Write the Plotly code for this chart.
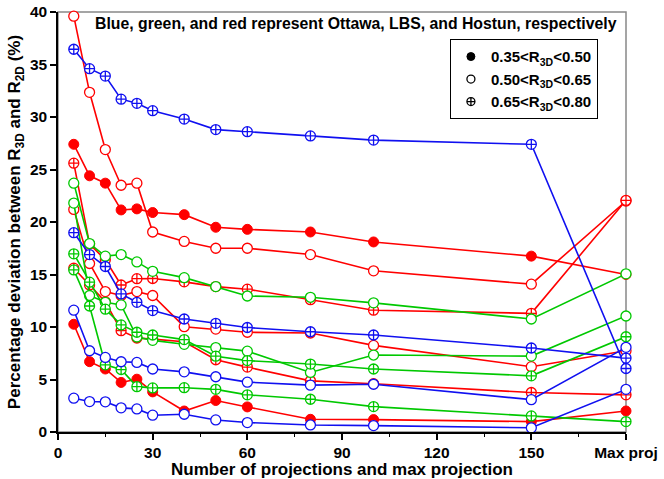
import plotly.graph_objects as go

# x positions: numbers of projections, last one = "Max proj"
x_vals = [5, 10, 15, 20, 25, 30, 40, 50, 60, 80, 100, 150, 180]
x_tick_vals = [0, 30, 60, 90, 120, 150, 180]
x_tick_text = ["0", "30", "60", "90", "120", "150", "Max proj"]
y_tick_vals = [0, 5, 10, 15, 20, 25, 30, 35, 40]

# Hostun (red)
red_fill_1 = [27.4, 24.4, 23.7, 21.15, 21.25, 20.9, 20.7, 19.5, 19.3, 19.05, 18.1, 16.75, 15.0]
red_fill_2 = [10.26, 6.7, 6.0, 4.72, 5.03, 3.82, 2.0, 3.0, 2.39, 1.21, 1.18, 0.99, 2.0]
red_open_1 = [39.6, 32.35, 26.9, 23.5, 23.7, 19.05, 18.15, 17.5, 17.5, 16.9, 15.35, 14.08, 22.0]
red_open_2 = [21.2, 16.05, 13.37, 13.0, 13.37, 13.0, 10.03, 9.8, 9.5, 9.43, 8.25, 6.22, 7.74]
red_cross_1 = [25.6, 17.9, 16.4, 14.0, 14.6, 14.62, 14.3, 13.85, 13.6, 12.6, 11.6, 11.3, 22.06]
red_cross_2 = [15.6, 14.0, 12.4, 9.65, 8.95, 8.85, 8.6, 6.88, 6.18, 4.87, 4.6, 3.76, 3.54]

# LBS (green)
green_open_1 = [23.7, 17.95, 16.75, 16.9, 16.2, 15.3, 14.7, 13.85, 12.95, 12.83, 12.3, 10.76, 15.06]
green_open_2 = [21.8, 13.0, 12.35, 12.1, 9.05, 8.73, 8.35, 8.04, 7.7, 5.67, 7.33, 7.23, 11.05]
green_cross_1 = [16.97, 14.27, 11.7, 10.2, 9.5, 9.24, 8.8, 7.22, 6.8, 6.47, 6.0, 5.35, 9.07]
green_cross_2 = [15.44, 12.0, 6.4, 5.95, 4.32, 4.2, 4.22, 4.06, 3.54, 3.12, 2.42, 1.53, 0.99]

# Ottawa (blue)
blue_open_1 = [11.6, 7.74, 7.1, 6.69, 6.63, 6.0, 5.73, 5.26, 4.75, 4.46, 4.55, 3.08, 8.06]
blue_open_2 = [3.22, 2.9, 2.87, 2.3, 2.2, 1.6, 1.69, 1.15, 0.9, 0.67, 0.61, 0.4, 4.06]
blue_cross_1 = [36.45, 34.6, 33.9, 31.7, 31.3, 30.6, 29.8, 28.8, 28.6, 28.2, 27.8, 27.4, 6.05]
blue_cross_2 = [18.98, 16.9, 15.76, 13.15, 12.35, 11.56, 10.76, 10.35, 9.95, 9.55, 9.24, 8.0, 7.04]

legend_labels = ["0.35&lt;R<sub>3D</sub>&lt;0.50",
                 "0.50&lt;R<sub>3D</sub>&lt;0.65",
                 "0.65&lt;R<sub>3D</sub>&lt;0.80"]

RED = "#ff0000"
GREEN = "#00c800"
BLUE = "#1010f0"
FONT = "Arial, Liberation Sans, sans-serif"

series = [
    (red_fill_1, RED, "fill"), (red_fill_2, RED, "fill"),
    (red_open_1, RED, "open"), (red_open_2, RED, "open"),
    (red_cross_1, RED, "cross"), (red_cross_2, RED, "cross"),
    (green_open_1, GREEN, "open"), (green_open_2, GREEN, "open"),
    (green_cross_1, GREEN, "cross"), (green_cross_2, GREEN, "cross"),
    (blue_open_1, BLUE, "open"), (blue_open_2, BLUE, "open"),
    (blue_cross_1, BLUE, "cross"), (blue_cross_2, BLUE, "cross"),
]


def marker_for(kind, color, size=10):
    if kind == "fill":
        return dict(symbol="circle", size=size, color=color, line=dict(color=color, width=1))
    if kind == "open":
        return dict(symbol="circle", size=size, color="white", line=dict(color=color, width=1.3))
    return dict(symbol="circle-cross", size=size, color="white", line=dict(color=color, width=1.3))


fig = go.Figure()
for ys, color, kind in series:
    fig.add_trace(go.Scatter(
        x=x_vals, y=ys, mode="lines+markers",
        line=dict(color=color, width=1.6),
        marker=marker_for(kind, color),
        showlegend=False, cliponaxis=False, hoverinfo="skip"))

for label, kind in zip(legend_labels, ["fill", "open", "cross"]):
    fig.add_trace(go.Scatter(
        x=[None], y=[None], mode="markers", name=label,
        marker=marker_for(kind, "black", size=8)))

fig.add_shape(type="rect", xref="paper", yref="paper", x0=0, y0=0, x1=1, y1=1,
              line=dict(color="#888888", width=1.5), layer="below")

fig.add_annotation(
    text="<b>Blue, green, and red represent Ottawa, LBS, and Hostun, respectively</b>",
    xref="paper", yref="paper", x=0.987, y=0.997, xanchor="right", yanchor="top",
    showarrow=False, font=dict(family=FONT, size=15.8, color="black"))

fig.update_layout(
    width=664, height=479,
    margin=dict(l=58, r=38, t=12, b=47),
    plot_bgcolor="white", paper_bgcolor="white",
    font=dict(family=FONT, color="black"),
    legend=dict(x=0.69, y=0.935, xanchor="left", yanchor="top",
                bordercolor="black", borderwidth=1, bgcolor="white",
                font=dict(family=FONT, size=15, weight="bold"),
                tracegroupgap=0, itemwidth=30),
    xaxis=dict(range=[0, 180], tickvals=x_tick_vals, ticktext=x_tick_text,
               automargin=False,
               ticks="outside", ticklen=6, tickwidth=1.5, tickcolor="black",
               showline=True, linecolor="black", linewidth=1.5,
               showgrid=False, zeroline=False,
               minor=dict(dtick=15, tick0=0, ticks="outside", ticklen=3, tickcolor="black", tickwidth=1),
               tickfont=dict(family=FONT, size=15.5, weight="bold"),
               title=dict(text="<b>Number of projections and max projection</b>",
                          font=dict(family=FONT, size=17), standoff=6)),
    yaxis=dict(range=[0, 40], tickvals=y_tick_vals,
               automargin=False,
               ticks="outside", ticklen=6, tickwidth=1.5, tickcolor="black",
               showline=True, linecolor="black", linewidth=1.5,
               showgrid=False, zeroline=False,
               tickfont=dict(family=FONT, size=15.5, weight="bold"),
               title=dict(text="<b>Percentage deviation between R<sub>3D</sub> and R<sub>2D</sub> (%)</b>",
                          font=dict(family=FONT, size=17), standoff=5)),
)

fig.write_html("out.html")
